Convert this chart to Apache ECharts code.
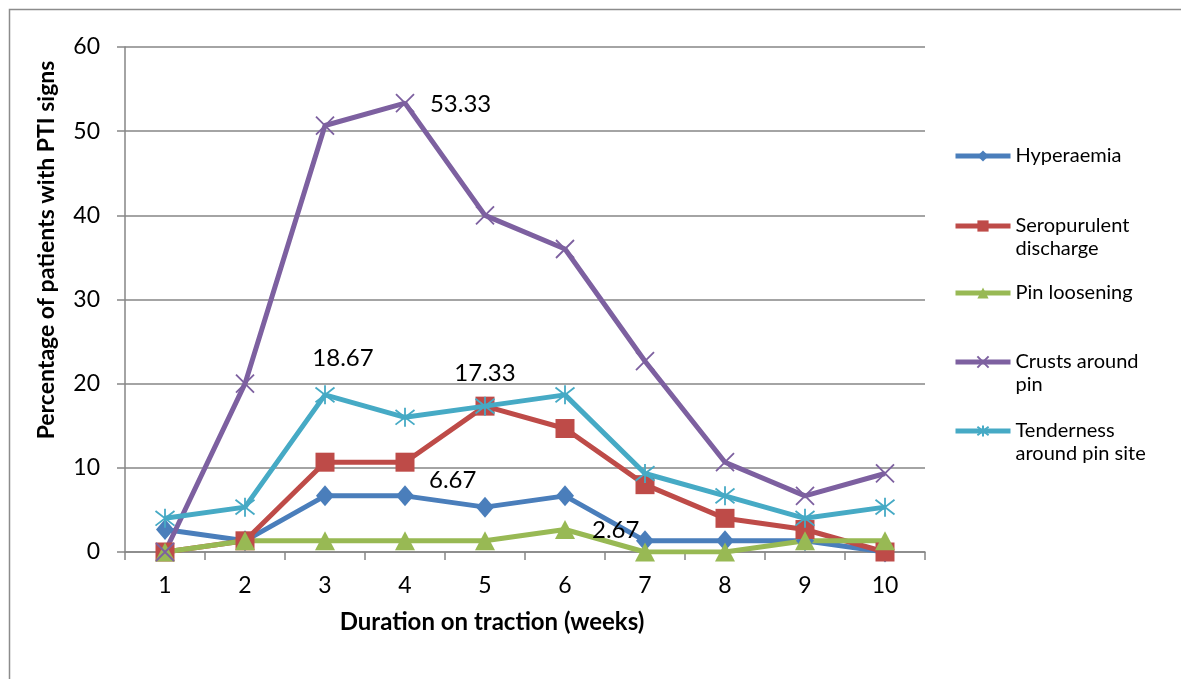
<!DOCTYPE html>
<html>
<head>
<meta charset="utf-8">
<script src="https://cdn.jsdelivr.net/npm/echarts@6/dist/echarts.min.js"></script>
<style>
html,body{margin:0;padding:0;background:#fff;}
#chart{width:1181px;height:679px;}
</style>
</head>
<body>
<div id="chart"></div>
<script>
const weeks = ['1','2','3','4','5','6','7','8','9','10'];
const hyperaemia   = [2.67, 1.33, 6.67, 6.67, 5.33, 6.67, 1.33, 1.33, 1.33, 0];
const seropurulent = [0, 1.33, 10.67, 10.67, 17.33, 14.67, 8, 4, 2.67, 0];
const pinLoosening = [0, 1.33, 1.33, 1.33, 1.33, 2.67, 0, 0, 1.33, 1.33];
const crusts       = [0, 20, 50.67, 53.33, 40, 36, 22.67, 10.67, 6.67, 9.33];
const tenderness   = [4, 5.33, 18.67, 16, 17.33, 18.67, 9.33, 6.67, 4, 5.33];
const seriesNames = ['Hyperaemia', 'Seropurulent discharge', 'Pin loosening', 'Crusts around pin', 'Tenderness around pin site'];
const legendLines = [['Hyperaemia'], ['Seropurulent', 'discharge'], ['Pin loosening'], ['Crusts around', 'pin'], ['Tenderness', 'around pin site']];
const yTicks = [0, 10, 20, 30, 40, 50, 60];
const yTitle = 'Percentage of patients with PTI signs';
const xTitle = 'Duration on traction (weeks)';
// annotations: [series index, point index, text]
const annotations = [
  [3, 3, '53.33'],
  [4, 2, '18.67'],
  [4, 4, '17.33'],
  [0, 3, '6.67'],
  [2, 5, '2.67']
];

const FONT = 'Lato';
const colors = ['#4A7EBB', '#BE4B48', '#98B954', '#7D60A0', '#46AAC5'];
const symbols = ['diamond', 'rect', 'triangle',
  'path://M0,0L10,10M10,0L0,10',
  'path://M0,0L10,10M10,0L0,10M5,-1.5L5,11.5'];
const symbolSizes = [[18, 21], 19, [20, 19], 18, 19];
const labelStyles = {
  '3-3': {position: 'right', distance: 15, offset: [0, 1]},
  '4-2': {position: 'top', distance: 14, offset: [18, 0]},
  '4-4': {position: 'top', distance: 10, offset: [0, 0]},
  '0-3': {position: 'right', distance: 15, offset: [0, -16]},
  '2-5': {position: 'right', distance: 17, offset: [0, 1]}
};
const allData = [hyperaemia, seropurulent, pinLoosening, crusts, tenderness];

const series = allData.map((arr, si) => {
  const data = arr.map((v, i) => {
    const ann = annotations.find(a => a[0] === si && a[1] === i);
    if (!ann) return v;
    const ls = labelStyles[si + '-' + i];
    return {
      value: v,
      label: {
        show: true, formatter: ann[2], position: ls.position, distance: ls.distance,
        offset: ls.offset, color: '#000', fontSize: 24, fontFamily: FONT
      }
    };
  });
  const isPath = si >= 3;
  return {
    name: seriesNames[si],
    type: 'line',
    data: data,
    symbol: symbols[si],
    symbolSize: symbolSizes[si],
    showAllSymbol: true,
    z: 2 + (si === 4 ? 1 : 0),
    lineStyle: {color: colors[si], width: 5},
    itemStyle: isPath ? {color: colors[si], borderColor: colors[si], borderWidth: 1.8}
                      : {color: colors[si], borderWidth: 0},
    emphasis: {disabled: true},
    animation: false
  };
});

const legendCenters = [154, 224, 291, 360, 429];
const LH = 23;
const legends = seriesNames.map((n, i) => {
  const twoLine = legendLines[i].length > 1;
  const text = twoLine ? '\n' + legendLines[i].join('\n') : legendLines[i][0];
  return {
    data: [n],
    left: 948,
    top: twoLine ? legendCenters[i] - 1.5 * LH - 3 : legendCenters[i] - 0.5 * LH - 3,
    itemWidth: 55,
    itemHeight: 14,
    itemGap: 0,
    formatter: () => text,
    selectedMode: false,
    lineStyle: {width: 5},
    textStyle: {fontFamily: FONT, fontSize: 20, color: '#000', lineHeight: LH}
  };
});

const chart = echarts.init(document.getElementById('chart'), null, {renderer: 'canvas'});
chart.setOption({
  backgroundColor: '#fff',
  animation: false,
  textStyle: {fontFamily: FONT},
  grid: {left: 125, right: 256, top: 47, bottom: 127},
  legend: legends,
  xAxis: {
    type: 'category',
    data: weeks,
    boundaryGap: true,
    axisLine: {lineStyle: {color: '#868686', width: 1.5}},
    axisTick: {show: true, length: 8, lineStyle: {color: '#868686', width: 1.5}},
    axisLabel: {color: '#000', fontSize: 23, fontFamily: FONT, margin: 22}
  },
  yAxis: {
    type: 'value',
    min: 0, max: 60, interval: 10,
    axisLine: {show: true, lineStyle: {color: '#868686', width: 1.5}},
    axisTick: {show: true, length: 8, lineStyle: {color: '#868686', width: 1.5}},
    axisLabel: {color: '#000', fontSize: 23, fontFamily: FONT, margin: 25,
      formatter: v => yTicks.includes(v) ? String(v) : ''},
    splitLine: {lineStyle: {color: '#868686', width: 1.5}}
  },
  graphic: [
    {type: 'rect', shape: {x: 9.5, y: 9.5, width: 1300, height: 800},
     style: {fill: 'none', stroke: '#8c8c8c', lineWidth: 1.5}, z: -10, silent: true},
    {type: 'text', x: 47, y: 250, rotation: Math.PI / 2,
     style: {text: yTitle, fontFamily: FONT, fontSize: 23, fontWeight: 'bold', fill: '#000',
       align: 'center', verticalAlign: 'middle'}},
    {type: 'text', x: 492, y: 622,
     style: {text: xTitle, fontFamily: FONT, fontSize: 24, fontWeight: 'bold', fill: '#000',
       align: 'center', verticalAlign: 'middle'}}
  ],
  series: series
});
</script>
</body>
</html>
